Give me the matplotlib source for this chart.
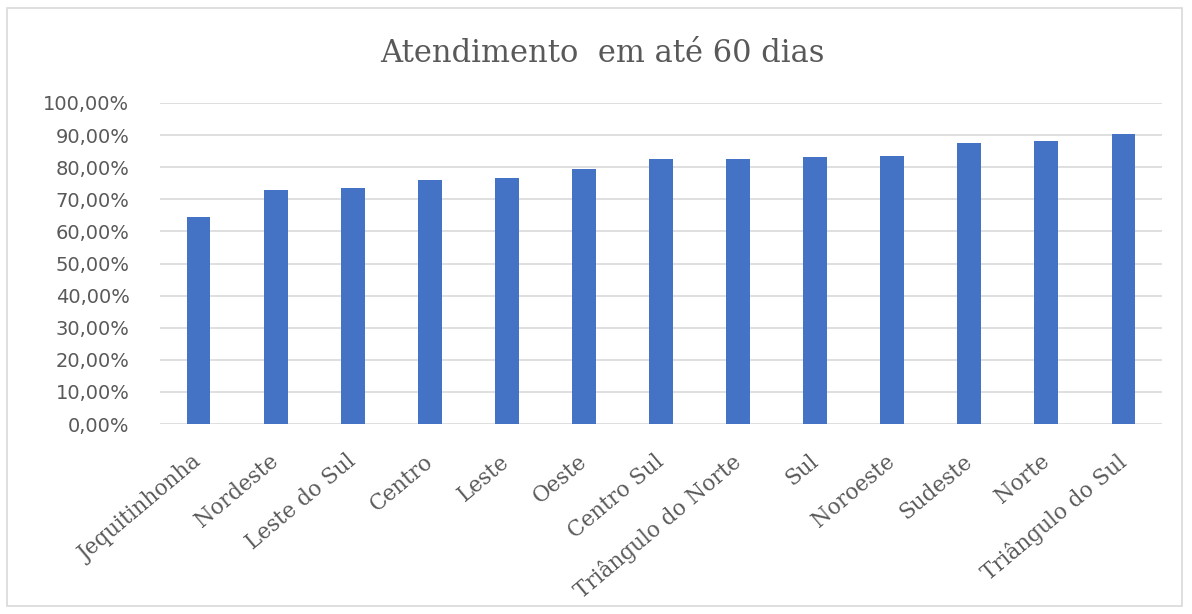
import matplotlib
matplotlib.use("Agg")
import matplotlib.pyplot as plt
import matplotlib.transforms as mtransforms
from matplotlib.patches import Rectangle
from matplotlib.ticker import FuncFormatter

regioes = ["Jequitinhonha", "Nordeste", "Leste do Sul", "Centro", "Leste", "Oeste",
           "Centro Sul", "Triângulo do Norte", "Sul", "Noroeste", "Sudeste", "Norte",
           "Triângulo do Sul"]
atendimento = [64.5, 72.9, 73.5, 76.0, 76.7, 79.5, 82.6, 82.6, 83.2, 83.5, 87.4, 88.1, 90.3]
y_ticks = [0, 10, 20, 30, 40, 50, 60, 70, 80, 90, 100]

W, H = 1192, 614
fig = plt.figure(figsize=(W / 100, H / 100), dpi=100)
fig.patch.set_facecolor("white")

# moldura da area do grafico
fig.add_artist(Rectangle((7 / W, 1 - 606 / H), 1175 / W, 598 / H, transform=fig.transFigure,
                         fill=False, edgecolor="#D9D9D9", linewidth=1.2))

ax = fig.add_axes([160 / W, 1 - 424 / H, 1002 / W, 321 / H])
x = list(range(len(regioes)))
ax.bar(x, atendimento, width=0.31, color="#4472C4", zorder=3)

ax.set_xlim(-0.5, len(regioes) - 0.5)
ax.set_ylim(0, 100)
ax.set_yticks(y_ticks)
ax.yaxis.set_major_formatter(FuncFormatter(lambda v, p: ("%.2f%%" % v).replace(".", ",")))
ax.grid(axis="y", color="#D9D9D9", linewidth=1.2, zorder=0)
for s in ax.spines.values():
    s.set_visible(False)
ax.tick_params(axis="y", length=0, pad=22, labelsize=14, labelcolor="#595959")
for lbl in ax.get_yticklabels():
    lbl.set_fontfamily("DejaVu Sans")

ax.set_xticks(x)
ax.set_xticklabels(regioes, rotation=40, ha="right", va="top", rotation_mode="anchor",
                   fontsize=15.5, color="#595959", family="DejaVu Serif")
ax.tick_params(axis="x", length=0, pad=0)
offset = mtransforms.ScaledTranslation(-5 / 72, -19 / 72, fig.dpi_scale_trans)
for lbl in ax.get_xticklabels():
    lbl.set_transform(lbl.get_transform() + offset)

fig.text(602 / W, 1 - 53 / H, "Atendimento  em até 60 dias", ha="center", va="center",
         fontsize=22, color="#595959", family="DejaVu Serif")

fig.savefig("out.png", dpi=100)
